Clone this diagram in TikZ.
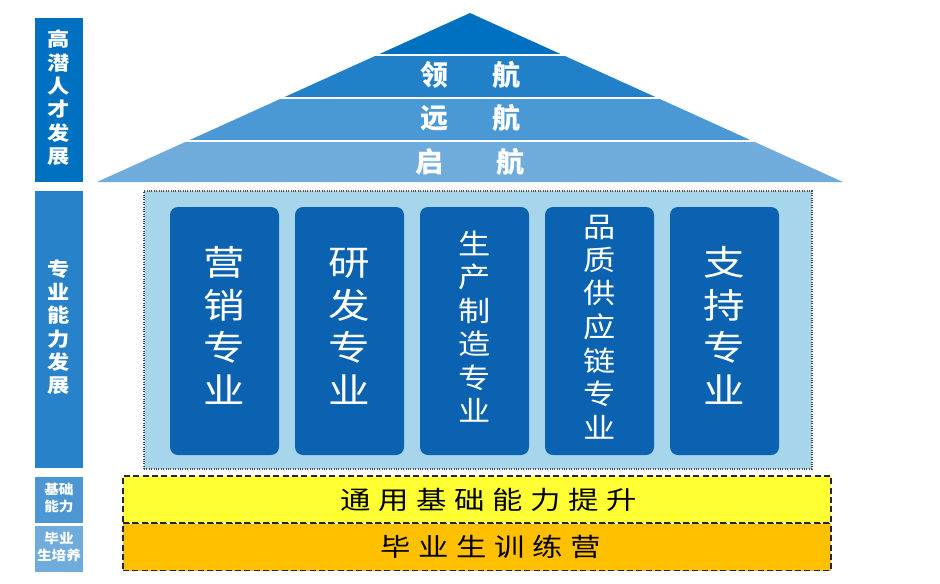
\documentclass[tikz,border=0pt]{standalone}
\usepackage{xcolor}
\usepackage{graphicx}
\usepackage{fontspec}
\usepackage{tikz}
\usetikzlibrary{positioning}
\newfontfamily\cjk{Noto Sans CJK SC}
\newfontfamily\cjkwide[LetterSpace=25]{Noto Sans CJK SC}
\definecolor{peakblue}{RGB}{0,112,192}
\definecolor{majorblue}{RGB}{40,130,202}
\definecolor{baseblue}{RGB}{76,150,212}
\definecolor{gradblue}{RGB}{112,171,222}
\definecolor{roofa}{RGB}{0,112,192}
\definecolor{roofb}{RGB}{33,128,200}
\definecolor{roofc}{RGB}{74,152,212}
\definecolor{roofd}{RGB}{111,172,220}
\definecolor{panelfill}{RGB}{166,213,236}
\definecolor{pillarfill}{RGB}{10,98,176}
\definecolor{basefill}{RGB}{255,255,51}
\definecolor{campfill}{RGB}{255,192,0}
\definecolor{barline}{RGB}{35,35,60}
\newcommand{\colstack}[2][1.15]{\scalebox{#1}[1]{\begin{tabular}{@{}c@{}}#2\end{tabular}}}

\begin{document}
\begin{tikzpicture}[x=0.75pt,y=-0.75pt]
\tikzset{
sidebox/.style={fill=#1, text=white, minimum width=36pt, inner sep=0pt},
sidebig/.style={font=\cjk\bfseries\fontsize{14.5pt}{17pt}\selectfont},
sidesmall/.style={font=\cjk\bfseries\fontsize{10pt}{12.75pt}\selectfont},
rooftext/.style={text=white, inner sep=0pt, font=\cjk\bfseries\fontsize{21pt}{24pt}\selectfont},
panel/.style={fill=panelfill, draw=black!70, densely dotted, line width=0.8pt, minimum width=501pt, minimum height=208.5pt},
pillar/.style={fill=pillarfill, rounded corners=6pt, text=white, minimum width=81.75pt, minimum height=186pt, inner sep=0pt, outer sep=0pt},
bigcn/.style={font=\cjk\fontsize{26pt}{32pt}\selectfont},
smallcn/.style={font=\cjk\fontsize{21pt}{25pt}\selectfont},
bar/.style={fill=#1, draw=barline, dash pattern=on 4.5pt off 2.5pt, line width=1.1pt, minimum width=531pt, minimum height=35.25pt},
bartext/.style={inner sep=0pt, font=\cjkwide\fontsize{19pt}{21pt}\selectfont}
}
\useasboundingbox (0,0) rectangle (940,583);

% side labels
\node[sidebox=peakblue, sidebig, minimum height=123pt] (peak) at (59,100) {\colstack{高\\潜\\人\\才\\发\\展}};
\node[sidebox=majorblue, sidebig, minimum height=207.75pt] (major) at (59,329.5) {\colstack{专\\业\\能\\力\\发\\展}};
\node[sidebox=baseblue, sidesmall, minimum height=34.5pt] (basic) at (59,500) {\colstack[1.1]{基础\\能力}};
\node[sidebox=gradblue, sidesmall, minimum height=34.5pt] (grad) at (59,549) {\colstack[1.1]{毕业\\生培养}};

% roof
\foreach \top/\bot/\col in {0/53/roofa,56/96/roofb,99/139/roofc,142/182/roofd}{
\begin{scope}
\clip (0,\top) rectangle (940,\bot);
\fill[\col] (470,13) -- (843,182) -- (97,182) -- cycle;
\end{scope}
}
\node[rooftext] (lead) at (470.5,75) {领\hspace{1.6em}航};
\node[rooftext] (far) at (470.5,118) {远\hspace{1.6em}航};
\node[rooftext] (start) at (470,161.5) {启\hspace{1.9em}航};

% pillars
\node[panel] (panel) at (478,330) {};
\node[pillar, bigcn] (mkt) at (224.5,331) {\colstack[1.2]{营\\销\\专\\业}};
\node[pillar, bigcn, right=12pt of mkt] (rnd) {\colstack[1.2]{研\\发\\专\\业}};
\node[pillar, smallcn, right=12pt of rnd] (mfg) {\colstack[1.15]{生\\产\\制\\造\\专\\业}};
\node[pillar, smallcn, right=12pt of mfg] (qsc) {\colstack[1.15]{品\\质\\供\\应\\链\\专\\业}};
\node[pillar, bigcn, right=12pt of qsc] (sup) {\colstack[1.2]{支\\持\\专\\业}};

% base bars
\node[bar=basefill] (basebar) at (477,499.5) {};
\node[bar=campfill] (campbar) at (477,547) {};
\node[bartext] (basetxt) at ([xshift=9pt]basebar.center) {\scalebox{1.2}[1]{通用基础能力提升}};
\node[bartext] (camptxt) at ([xshift=10.5pt]campbar.center) {\scalebox{1.2}[1]{毕业生训练营}};

\end{tikzpicture}
\end{document}
